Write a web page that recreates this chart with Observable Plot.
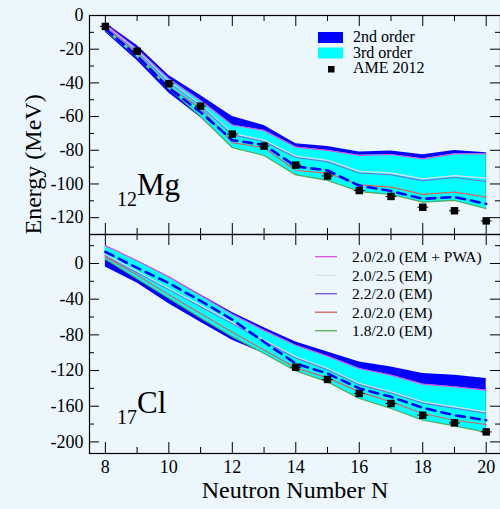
<!DOCTYPE html>
<html>
<head>
<meta charset="utf-8">
<script src="https://cdn.jsdelivr.net/npm/d3@7"></script>
<script src="https://cdn.jsdelivr.net/npm/@observablehq/plot@0.6"></script>
<style>
  html, body { margin: 0; padding: 0; background: #ebf6fd; }
  #wrap { position: relative; width: 500px; height: 509px; overflow: hidden; background: #ebf6fd; }
  #wrap > svg { position: absolute; left: 0; top: 0; }
</style>
</head>
<body>
<div id="wrap"></div>
<script>
// ---------- data ----------
const N = [8, 9, 10, 11, 12, 13, 14, 15, 16, 17, 18, 19, 20];

// 12Mg
const mgBlueTop = [-4.5, -17.8, -35.6, -47.5, -60, -65.3, -76.2, -77.7, -81, -80.5, -82.7, -80.1, -81.5];
const mgBlueBot = [-10, -26.7, -46, -60.5, -78.5, -83.1, -94.6, -97.9, -104.5, -106.2, -110.8, -109.8, -114.7];
const mgMagenta = [-5.3, -19.8, -37.6, -50.4, -65, -68.2, -78.1, -80.1, -83, -82.5, -85.1, -82.1, -82.1];
const mgGrey    = [-6, -21, -39.3, -53, -70, -74, -83.5, -86, -92.5, -93.5, -97, -95, -96.5];
const mgPurple  = [-6.5, -21.5, -39.8, -53.5, -70.8, -74.8, -84.3, -86.8, -93.5, -94.5, -98, -96.2, -98.5];
const mgRed     = [-7.3, -22.8, -42.1, -55, -75.5, -78.5, -92, -93.6, -100.5, -101.9, -106.2, -104.9, -107.8];
const mgDashed  = [-8, -24, -43, -57.4, -74, -76.8, -89.6, -92, -101, -104.2, -108.8, -107.8, -111.8];
const mgGreen   = [-8.9, -24.7, -43.5, -59.9, -78.5, -83.1, -94.6, -97.9, -104.5, -106.2, -110.8, -109.8, -114.7];
const mgAME     = [-6.5, -21.2, -40.5, -53.8, -70.4, -77.5, -88.8, -95.3, -103.9, -107.4, -113.8, -115.9, -121.9];

// 17Cl
const clBlueTop = [20, 3, -15, -35, -55, -72, -87.9, -99.1, -110.3, -115.9, -123.3, -125.2, -128.9];
const clBlueBot = [-3.8, -22, -45, -66, -86, -101, -120.4, -132.7, -151.3, -162.6, -175.7, -182.1, -189.5];
const clMagenta = [20, 3, -15, -36, -57, -75, -91.6, -103.9, -117.7, -125.2, -135.3, -138.3, -142];
const clGrey    = [10, -9, -28, -47, -66, -86, -104.7, -117.7, -134.5, -143.9, -155.1, -160.8, -166.4];
const clPurple  = [8.8, -10.3, -29.3, -48.4, -67.4, -87.4, -106, -119, -135.8, -145.2, -156.5, -162.2, -167.8];
const clRed     = [7.4, -13, -35, -56, -77, -97, -117, -128.2, -143.9, -155.1, -168.2, -175.7, -180.5];
const clDashed  = [13, -5, -22, -42, -63, -88, -112.2, -123.3, -140.1, -149.5, -161.9, -170.1, -175.7];
const clGreen   = [4.8, -17, -39, -61, -82, -101, -120.4, -132.7, -151.3, -162.6, -175.7, -182.1, -189.5];
const clAMEN    = [14, 15, 16, 17, 18, 19, 20];
const clAME     = [-116.3, -130, -145.7, -157, -170.1, -178.7, -188.8];

// ticks
const xMajor = [8, 10, 12, 14, 16, 18, 20];
const xMinor = [9, 11, 13, 15, 17, 19];
const mgMajor = [0, -20, -40, -60, -80, -100, -120];
const mgMinor = [-10, -30, -50, -70, -90, -110];
const clMajor = [0, -40, -80, -120, -160, -200];
const clMinor = [20, -20, -60, -100, -140, -180];

// legend entries
const bandLabels = ["2nd order", "3rd order", "AME 2012"];
const lineLabels = ["2.0/2.0 (EM + PWA)", "2.0/2.5 (EM)", "2.2/2.0 (EM)", "2.0/2.0 (EM)", "1.8/2.0 (EM)"];
const lineColors = ["#e050e0", "#d6e2ea", "#7a52d6", "#d4625e", "#55b055"];

// ---------- build tables ----------
function rows(bt, bb, mag, gr, pu, rd, da, gn) {
  return N.map((n, i) => ({N: n, blueTop: bt[i], blueBot: bb[i], magenta: mag[i], grey: gr[i],
    purple: pu[i], red: rd[i], dashed: da[i], green: gn[i]}));
}
const mg = rows(mgBlueTop, mgBlueBot, mgMagenta, mgGrey, mgPurple, mgRed, mgDashed, mgGreen);
const cl = rows(clBlueTop, clBlueBot, clMagenta, clGrey, clPurple, clRed, clDashed, clGreen);
const mgPts = N.map((n, i) => ({N: n, E: mgAME[i]}));
const clPts = clAMEN.map((n, i) => ({N: n, E: clAME[i]}));

const FONT = "'Liberation Serif', 'Times New Roman', 'DejaVu Serif', serif";
const W = 500, ML = 89, PW = W - ML; // plot width 411
const PH = 219; // plot height of each panel

function panelMarks(data, pts, major, minor) {
  return [
    Plot.areaY(data, {x: "N", y1: "blueBot", y2: "blueTop", fill: "#0000ff"}),
    Plot.areaY(data, {x: "N", y1: "green", y2: "magenta", fill: "#00ffff"}),
    Plot.lineY(data, {x: "N", y: "grey", stroke: lineColors[1], strokeWidth: 1.3}),
    Plot.lineY(data, {x: "N", y: "purple", stroke: lineColors[2], strokeWidth: 1.1, strokeOpacity: 0.8}),
    Plot.lineY(data, {x: "N", y: "red", stroke: lineColors[3], strokeWidth: 1.2}),
    Plot.lineY(data, {x: "N", y: "green", stroke: lineColors[4], strokeWidth: 1.2}),
    Plot.lineY(data, {x: "N", y: "magenta", stroke: lineColors[0], strokeWidth: 1.2}),
    Plot.lineY(data, {x: "N", y: "dashed", stroke: "#0000ff", strokeWidth: 2.6, strokeDasharray: "9,6"}),
    Plot.link(pts, {x1: d => d.N - 0.17, x2: d => d.N + 0.17, y1: "E", y2: "E", stroke: "black", strokeWidth: 1}),
    Plot.dot(pts, {x: "N", y: "E", symbol: "square", fill: "black", r: 4.2}),
    // inward ticks
    Plot.tickY(major, {y: d => d, insetRight: PW - 10, stroke: "black"}),
    Plot.tickY(minor, {y: d => d, insetRight: PW - 5, stroke: "black"}),
    Plot.tickY(major, {y: d => d, insetLeft: PW - 10, stroke: "black"}),
    Plot.tickY(minor, {y: d => d, insetLeft: PW - 5, stroke: "black"}),
    Plot.tickX(xMajor, {x: d => d, insetBottom: PH - 11, stroke: "black"}),
    Plot.tickX(xMinor, {x: d => d, insetBottom: PH - 6, stroke: "black"}),
    Plot.tickX(xMajor, {x: d => d, insetTop: PH - 11, stroke: "black"}),
    Plot.tickX(xMinor, {x: d => d, insetTop: PH - 6, stroke: "black"}),
    Plot.axisY({ticks: major, tickSize: 0, tickPadding: 6, tickFormat: d => String(d), label: null,
      fontSize: 18, fontFamily: FONT}),
    Plot.frame({stroke: "black", strokeWidth: 1.2})
  ];
}

const styleObj = {background: "transparent", fontFamily: FONT, fontSize: "18px", color: "black", overflow: "visible"};

const topPlot = Plot.plot({
  width: W, height: 235, marginTop: 15, marginBottom: 1, marginLeft: ML, marginRight: 0,
  x: {domain: [7.5, 20.45], label: null, axis: null},
  y: {domain: [-130, 0], label: null},
  style: styleObj,
  marks: panelMarks(mg, mgPts, mgMajor, mgMinor)
});

const bottomPlot = Plot.plot({
  width: W, height: 509, marginTop: 234, marginBottom: 56, marginLeft: ML, marginRight: 0,
  x: {domain: [7.5, 20.45], label: null},
  y: {domain: [-213, 32.5], label: null},
  style: styleObj,
  marks: [
    ...panelMarks(cl, clPts, clMajor, clMinor),
    Plot.axisX({ticks: xMajor, tickSize: 0, tickPadding: 7, tickFormat: d => String(d), label: null,
      fontSize: 18, fontFamily: FONT}),
    Plot.text(["Neutron Number N"], {frameAnchor: "bottom", dy: 44, text: d => d, fontSize: 24,
      fontFamily: FONT, fill: "black"}),
    Plot.text(["Energy (MeV)"], {frameAnchor: "top-left", dx: -66, rotate: -90, text: d => d, fontSize: 24,
      fontFamily: FONT, fill: "black"})
  ]
});

const wrap = document.getElementById("wrap");
wrap.appendChild(topPlot);
wrap.appendChild(bottomPlot);

// ---------- overlay: panel labels & legends ----------
const svg = d3.select(wrap).append("svg")
  .attr("width", W).attr("height", 509)
  .style("font-family", FONT).style("pointer-events", "none");

function elementLabel(x, y, sub, sym) {
  const t = svg.append("text").attr("x", x).attr("y", y).attr("fill", "black");
  t.append("tspan").attr("font-size", 20).attr("dy", 11).text(sub);
  t.append("tspan").attr("font-size", 31).attr("dy", -11).text(sym);
}
elementLabel(117, 195, "12", "Mg");
elementLabel(117, 413, "17", "Cl");

// top legend
const lg1 = svg.append("g");
lg1.append("rect").attr("x", 318).attr("y", 32).attr("width", 25).attr("height", 11).attr("fill", "#0000ff");
lg1.append("rect").attr("x", 318).attr("y", 47.5).attr("width", 25).attr("height", 11).attr("fill", "#00ffff");
lg1.append("rect").attr("x", 328).attr("y", 66).attr("width", 6.5).attr("height", 6.5).attr("fill", "black");
bandLabels.forEach((s, i) => {
  lg1.append("text").attr("x", 353).attr("y", 42 + i * 15.7).attr("font-size", 16).attr("fill", "black").text(s);
});

// bottom legend
const lg2 = svg.append("g");
lineLabels.forEach((s, i) => {
  const y = 256.7 + i * 18.5;
  lg2.append("line").attr("x1", 315).attr("x2", 337).attr("y1", y).attr("y2", y)
    .attr("stroke", lineColors[i]).attr("stroke-width", 1.3);
  lg2.append("text").attr("x", 352).attr("y", y + 5.5).attr("font-size", 15.5).attr("fill", "black").text(s);
});
</script>
</body>
</html>
